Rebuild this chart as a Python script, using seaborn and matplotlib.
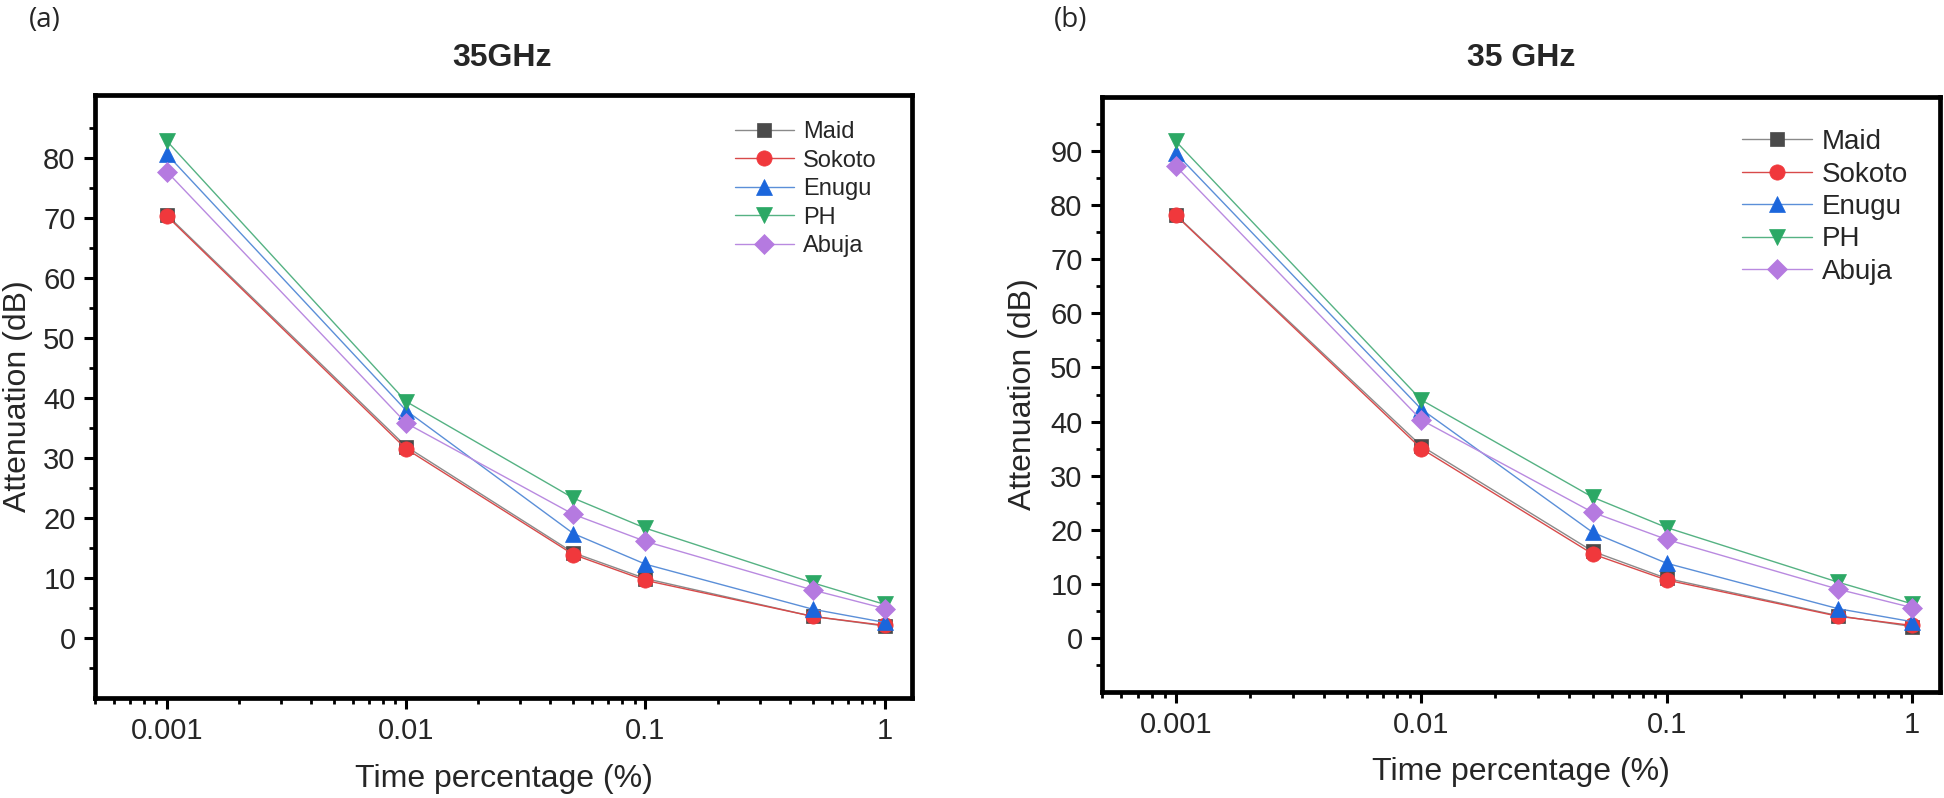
import numpy as np
import pandas as pd
import seaborn as sns
import matplotlib
matplotlib.use('Agg')
import matplotlib.pyplot as plt
from matplotlib.ticker import FixedLocator, LogLocator, NullFormatter

time_pct = [0.001, 0.01, 0.05, 0.1, 0.5, 1]
regions = ['Maid', 'Sokoto', 'Enugu', 'PH', 'Abuja']
major_x = [0.001, 0.01, 0.1, 1]
major_x_labels = ['0.001', '0.01', '0.1', '1']

# panel (a) values
maid_a = [70.5, 31.9, 14.2, 9.9, 3.6, 2.0]
sokoto_a = [70.3, 31.5, 13.9, 9.6, 3.6, 2.1]
enugu_a = [80.6, 37.9, 17.4, 12.3, 4.8, 2.6]
ph_a = [82.8, 39.4, 23.3, 18.3, 9.2, 5.6]
abuja_a = [77.7, 35.8, 20.6, 16.1, 8.0, 4.9]

# panel (b)
maid_b = [78.2, 35.5, 16.0, 11.0, 4.1, 2.1]
sokoto_b = [78.1, 35.0, 15.5, 10.7, 4.0, 2.3]
enugu_b = [89.6, 42.3, 19.5, 13.8, 5.4, 3.0]
ph_b = [91.8, 44.0, 26.0, 20.4, 10.3, 6.3]
abuja_b = [87.2, 40.3, 23.2, 18.2, 9.0, 5.6]

line_colors = ['#8a8a8a', '#d84a4a', '#5b8fd8', '#55b283', '#b98ae0']
marker_colors = ['#4a4a4a', '#f0383c', '#1b66dc', '#2ca865', '#b57ae0']
marker_shapes = ['s', 'o', '^', 'v', 'D']
marker_sizes = [10, 11, 12, 12, 10]


def long_df(series):
    rows = []
    for name, vals in zip(regions, series):
        for t, v in zip(time_pct, vals):
            rows.append({'region': name, 'time': t, 'att': v})
    return pd.DataFrame(rows)


sns.set_style('ticks')
plt.rcParams['font.family'] = ['Liberation Sans', 'DejaVu Sans']

W, H = 1944, 798
fig = plt.figure(figsize=(W / 100, H / 100), dpi=100)


def px_axes(left, top, right, bottom):
    return fig.add_axes([left / W, 1 - bottom / H, (right - left) / W, (bottom - top) / H])


def draw(ax, series, ymax, ylabels, leg_anchor, leg_size, leg_space):
    df = long_df(series)
    sns.lineplot(data=df, x='time', y='att', hue='region', style='region',
                 hue_order=regions, style_order=regions,
                 palette=dict(zip(regions, line_colors)),
                 markers=dict(zip(regions, marker_shapes)), dashes=False,
                 linewidth=1.0, legend=False, ax=ax)
    for ln, mc, ms in zip(ax.lines, marker_colors, marker_sizes):
        ln.set_markerfacecolor(mc)
        ln.set_markeredgecolor(mc)
        ln.set_markeredgewidth(0.5)
        ln.set_markersize(ms)
    ax.set_xscale('log')
    ax.set_xlim(0.0005, 1.3)
    ax.set_ylim(-10, ymax)
    ax.xaxis.set_major_locator(FixedLocator(major_x))
    ax.set_xticklabels(major_x_labels)
    ax.xaxis.set_minor_locator(LogLocator(base=10, subs=np.arange(2, 10)))
    ax.xaxis.set_minor_formatter(NullFormatter())
    ax.yaxis.set_major_locator(FixedLocator(ylabels))
    ax.yaxis.set_minor_locator(FixedLocator([v + 5 for v in [-10] + list(ylabels)]))
    ax.tick_params(which='major', direction='out', length=8, width=2.2,
                   labelsize=21, pad=6, color='black')
    ax.tick_params(which='minor', direction='out', length=4, width=2.0, color='black')
    for s in ax.spines.values():
        s.set_linewidth(3.4)
        s.set_color('black')
    ax.set_xlabel('Time percentage (%)', fontsize=23)
    ax.set_ylabel('Attenuation (dB)', fontsize=23)
    ax.xaxis.set_label_coords(0.5, -0.134)
    ax.xaxis.label.set_va('center')
    ax.yaxis.set_label_coords(-0.094, 0.5)
    ax.yaxis.label.set_va('center')
    ax.legend(handles=ax.lines[:5], labels=regions, loc='upper left',
              bbox_to_anchor=leg_anchor, frameon=False, fontsize=leg_size,
              borderpad=0, borderaxespad=0, handlelength=2.5,
              handletextpad=0.38, labelspacing=leg_space)


ax_a = px_axes(95, 95, 912, 698)
draw(ax_a, [maid_a, sokoto_a, enugu_a, ph_a, abuja_a], 90.5,
     list(range(0, 81, 10)), (0.783, 0.957), 17, 0.28)

ax_b = px_axes(1102, 97, 1940, 692)
draw(ax_b, [maid_b, sokoto_b, enugu_b, ph_b, abuja_b], 100,
     list(range(0, 91, 10)), (0.764, 0.946), 20, 0.23)

fig.text(502 / W, 1 - 58 / H, '35GHz', fontsize=23, fontweight='bold', ha='center', va='center')
fig.text(1521 / W, 1 - 58 / H, '35 GHz', fontsize=23, fontweight='bold', ha='center', va='center')
fig.text(45 / W, 1 - 20 / H, '(a)', fontsize=20, ha='center', va='center', family=['Open Sans', 'DejaVu Sans'])
fig.text(1071 / W, 1 - 20 / H, '(b)', fontsize=20, ha='center', va='center', family=['Open Sans', 'DejaVu Sans'])

fig.savefig('out.png', dpi=100)
